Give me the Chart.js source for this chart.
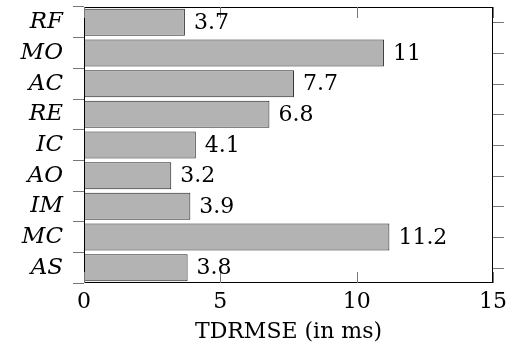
<!DOCTYPE html>
<html>
<head>
<meta charset="utf-8">
<script src="https://cdn.jsdelivr.net/npm/chart.js@4"></script>
<style>
  html, body { margin: 0; padding: 0; background: #fff; }
  #wrap { width: 510px; height: 349px; }
</style>
</head>
<body>
<div id="wrap"><canvas id="grafico" width="510" height="349"></canvas></div>
<script>
const categorias = ["RF", "MO", "AC", "RE", "IC", "AO", "IM", "MC", "AS"];
const valores = [3.7, 11, 7.7, 6.8, 4.1, 3.2, 3.9, 11.2, 3.8];
const ticksX = [0, 5, 10, 15];
const tituloX = "TDRMSE (in ms)";

const fuente = "'DejaVu Serif', 'Liberation Serif', serif";

// marco, marcas internas del eje x, marcas derecha del eje y y etiquetas de valor
const pluginMarco = {
  id: "marco",
  afterDraw(chart) {
    const ctx = chart.ctx;
    const area = chart.chartArea;
    const x = chart.scales.x;
    const y = chart.scales.y;
    ctx.save();
    ctx.strokeStyle = "#000";
    ctx.lineWidth = 1;
    ctx.strokeRect(area.left + 0.5, area.top + 0.5, area.right - area.left - 1, area.bottom - area.top - 1);

    ctx.strokeStyle = "#777";
    ticksX.forEach((t) => {
      const px = Math.round(x.getPixelForValue(t)) + 0.5;
      ctx.beginPath();
      ctx.moveTo(px, area.bottom);
      ctx.lineTo(px, area.bottom - 11);
      ctx.moveTo(px, area.top);
      ctx.lineTo(px, area.top + 11);
      ctx.stroke();
    });
    categorias.forEach((c, i) => {
      const py = Math.round(y.getPixelForValue(i)) + 0.5;
      ctx.beginPath();
      ctx.moveTo(area.right, py);
      ctx.lineTo(area.right + 11, py);
      ctx.stroke();
    });

    ctx.fillStyle = "#000";
    ctx.font = "22px " + fuente;
    ctx.textAlign = "left";
    ctx.textBaseline = "middle";
    const meta = chart.getDatasetMeta(0);
    meta.data.forEach((bar, i) => {
      ctx.fillText(String(valores[i]), bar.x + 9, bar.y + 1);
    });
    ctx.restore();
  },
};

const config = {
  type: "bar",
  data: {
    labels: categorias,
    datasets: [
      {
        data: valores,
        backgroundColor: "#b3b3b3",
        borderColor: "#222",
        borderWidth: 1,
        barPercentage: 0.88,
        categoryPercentage: 1,
      },
    ],
  },
  options: {
    indexAxis: "y",
    responsive: false,
    animation: false,
    layout: { padding: { left: 0, right: 17, top: 7, bottom: 0 } },
    plugins: { legend: { display: false }, tooltip: { enabled: false } },
    scales: {
      x: {
        min: 0,
        max: 15,
        afterBuildTicks: (s) => {
          s.ticks = ticksX.map((v) => ({ value: v }));
        },
        afterFit: (s) => {
          s.height = 66;
          s.paddingLeft = 0;
          s.paddingRight = 0;
        },
        grid: { drawOnChartArea: false, drawTicks: false },
        border: { display: false },
        ticks: { color: "#000", font: { family: fuente, size: 22 }, padding: 6, maxRotation: 0 },
        title: {
          display: true,
          text: tituloX,
          color: "#000",
          font: { family: fuente, size: 22 },
          padding: { top: 0, bottom: 4 },
        },
      },
      y: {
        afterFit: (s) => {
          s.width = 84;
          s.paddingTop = 0;
          s.paddingBottom = 0;
        },
        grid: { drawOnChartArea: false, tickLength: 11, color: "#777" },
        border: { display: false },
        ticks: {
          color: "#000",
          font: { family: fuente, size: 23, style: "italic" },
          padding: 10,
          autoSkip: false,
        },
      },
    },
  },
  plugins: [pluginMarco],
};

const graficoDOM = document.getElementById("grafico");
new Chart(graficoDOM, config);
</script>
</body>
</html>
